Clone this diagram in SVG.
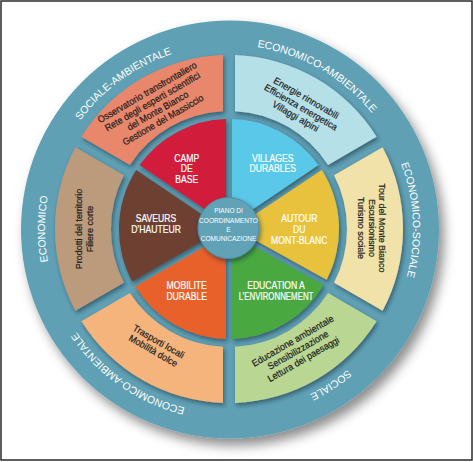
<svg xmlns="http://www.w3.org/2000/svg" xmlns:xlink="http://www.w3.org/1999/xlink" width="473" height="462" viewBox="0 0 473 462">
<style>
.seg-text{font-family:"Liberation Sans",Arial,sans-serif;font-size:9.6px;fill:#1c1c1c;stroke:#1c1c1c;stroke-width:0.2px;text-anchor:middle}
.pie-text{font-family:"Liberation Sans",Arial,sans-serif;font-size:10.5px;fill:#ffffff;stroke:#ffffff;stroke-width:0.2px;text-anchor:middle}
.ring-text{font-family:"Liberation Sans",Arial,sans-serif;font-size:10.5px;fill:#ffffff}
.center-text{font-family:"Liberation Sans",Arial,sans-serif;font-size:8px;fill:#ffffff;text-anchor:middle}
.sh{filter:url(#sh)}
</style>
<defs>
<filter id="bigShadow" x="-20%" y="-20%" width="150%" height="150%">
<feDropShadow dx="5" dy="7" stdDeviation="6" flood-color="#000" flood-opacity="0.45"/>
</filter>
<filter id="sh" x="-20%" y="-20%" width="140%" height="140%">
<feDropShadow dx="1.5" dy="2.5" stdDeviation="2" flood-color="#0b2a36" flood-opacity="0.55"/>
</filter>
<path id="ringPath" d="M 229 413 A 184 184 0 0 1 229 45 A 184 184 0 0 1 229 413"/>
</defs>
<rect x="1" y="1" width="471" height="459" fill="#ffffff" stroke="#2a2a2a" stroke-width="1.5"/>

<g id="ring">
<circle cx="230" cy="229.5" r="209" fill="#60a0b5" filter="url(#bigShadow)"/>
<text class="ring-text"><textPath xlink:href="#ringPath" href="#ringPath" startOffset="9.7%" text-anchor="middle">ECONOMICO-AMBIENTALE</textPath></text>
<text class="ring-text"><textPath xlink:href="#ringPath" href="#ringPath" startOffset="25%" text-anchor="middle">ECONOMICO</textPath></text>
<text class="ring-text"><textPath xlink:href="#ringPath" href="#ringPath" startOffset="40%" text-anchor="middle">SOCIALE-AMBIENTALE</textPath></text>
<text class="ring-text"><textPath xlink:href="#ringPath" href="#ringPath" startOffset="58.3%" text-anchor="middle">ECONOMICO-AMBIENTALE</textPath></text>
<text class="ring-text"><textPath xlink:href="#ringPath" href="#ringPath" startOffset="74.2%" text-anchor="middle">ECONOMICO-SOCIALE</textPath></text>
<text class="ring-text"><textPath xlink:href="#ringPath" href="#ringPath" startOffset="90.8%" text-anchor="middle">SOCIALE</textPath></text>
</g>

<g id="seg-sociale-ambientale">
<path class="sh" fill="#e8876c" d="M 223 55.10 A 174 174 0 0 0 81.40 136.86 L 129.94 164.88 A 118 118 0 0 1 223 111.15 Z"/>
<g transform="translate(155,106) rotate(-30) scale(0.93,1)">
<text class="seg-text" x="0" y="-12.5">Osservatorio transfrontaliero</text>
<text class="seg-text" x="0" y="-1.9">Rete degli esperti scientifici</text>
<text class="seg-text" x="0" y="8.7">del Monte Bianco</text>
<text class="seg-text" x="0" y="19.3">Gestione del Massiccio</text>
</g>
</g>

<g id="seg-economico-ambientale-top">
<path class="sh" fill="#b6e0e8" d="M 376.60 136.86 A 174 174 0 0 0 235 55.10 L 235 111.15 A 118 118 0 0 1 328.06 164.88 Z"/>
<g transform="translate(301,107) rotate(30) scale(0.93,1)">
<text class="seg-text" x="0" y="-7.2">Energie rinnovabili</text>
<text class="seg-text" x="0" y="3.4">Efficienza energetica</text>
<text class="seg-text" x="0" y="14">Villaggi alpini</text>
</g>
</g>

<g id="seg-economico-sociale">
<path class="sh" fill="#f1e2a9" d="M 382.60 310.75 A 174 174 0 0 0 382.60 147.25 L 334.06 175.27 A 118 118 0 0 1 334.06 282.73 Z"/>
<g transform="translate(372,228) rotate(90) scale(0.93,1)">
<text class="seg-text" x="0" y="-7.2">Tour del Monte Bianco</text>
<text class="seg-text" x="0" y="3.4">Escursionismo</text>
<text class="seg-text" x="0" y="14">Turismo sociale</text>
</g>
</g>

<g id="seg-sociale">
<path class="sh" fill="#b9d693" d="M 235 402.90 A 174 174 0 0 0 376.60 321.15 L 328.06 293.12 A 118 118 0 0 1 235 346.85 Z"/>
<g transform="translate(298,350) rotate(-30) scale(0.93,1)">
<text class="seg-text" x="0" y="-7.2">Educazione ambientale</text>
<text class="seg-text" x="0" y="3.4">Sensibilizzazione</text>
<text class="seg-text" x="0" y="14">Lettura dei paesaggi</text>
</g>
</g>

<g id="seg-economico-ambientale-bottom">
<path class="sh" fill="#f4b47c" d="M 81.40 321.15 A 174 174 0 0 0 223 402.90 L 223 346.85 A 118 118 0 0 1 129.94 293.12 Z"/>
<g transform="translate(156,346) rotate(30) scale(0.93,1)">
<text class="seg-text" x="0" y="-1.9">Trasporti locali</text>
<text class="seg-text" x="0" y="8.7">Mobilità dolce</text>
</g>
</g>

<g id="seg-economico">
<path class="sh" fill="#bc9a7b" d="M 75.40 147.25 A 174 174 0 0 0 75.40 310.75 L 123.94 282.73 A 118 118 0 0 1 123.94 175.27 Z"/>
<g transform="translate(84,229) rotate(-90) scale(0.93,1)">
<text class="seg-text" x="0" y="-1.9">Prodotti del territorio</text>
<text class="seg-text" x="0" y="8.7">Filiere corte</text>
</g>
</g>

<g id="wedge-villages">
<path class="sh" fill="#5ac8e8" d="M 318.48 165.03 A 110 110 0 0 0 232 119.04 L 232 209.23 L 243.72 215.46 Z"/>
<g transform="translate(272.7,157.7) scale(0.82,1)">
<text class="pie-text" x="0" y="3.8">VILLAGES</text>
<text class="pie-text" x="0" y="14.6">DURABLES</text>
</g>
</g>

<g id="wedge-camp">
<path class="sh" fill="#d11f3b" d="M 226 119.04 A 110 110 0 0 0 139.52 165.03 L 214.29 215.46 L 226 209.23 Z"/>
<g transform="translate(186.7,157.7) scale(0.82,1)">
<text class="pie-text" x="0" y="3.8">CAMP</text>
<text class="pie-text" x="0" y="14.6">DE</text>
<text class="pie-text" x="0" y="25.4">BASE</text>
</g>
</g>

<g id="wedge-saveurs">
<path class="sh" fill="#6d3f31" d="M 136.16 170.00 A 110 110 0 0 0 132.27 281.38 L 210.38 236.29 L 210.93 220.43 Z"/>
<g transform="translate(156,218.3) scale(0.82,1)">
<text class="pie-text" x="0" y="3.8">SAVEURS</text>
<text class="pie-text" x="0" y="14.6">D’HAUTEUR</text>
</g>
</g>

<g id="wedge-mobilite">
<path class="sh" fill="#e8612a" d="M 135.27 286.58 A 110 110 0 0 0 226 338.96 L 226 248.77 L 213.38 241.49 Z"/>
<g transform="translate(186.7,285) scale(0.82,1)">
<text class="pie-text" x="0" y="3.8">MOBILITE</text>
<text class="pie-text" x="0" y="14.6">DURABLE</text>
</g>
</g>

<g id="wedge-education">
<path class="sh" fill="#4aa83f" d="M 232 338.96 A 110 110 0 0 0 323.72 284.93 L 244.84 241.21 L 232 248.77 Z"/>
<g transform="translate(276,285) scale(0.82,1)">
<text class="pie-text" x="0" y="3.8">EDUCATION A</text>
<text class="pie-text" x="0" y="14.6" transform="scale(0.915,1)">L’ENVIRONNEMENT</text>
</g>
</g>

<g id="wedge-autour">
<path class="sh" fill="#e8c23c" d="M 326.63 279.69 A 110 110 0 0 0 321.84 170.00 L 246.07 220.43 L 247.75 235.96 Z"/>
<g transform="translate(299.3,218.3) scale(0.82,1)">
<text class="pie-text" x="0" y="3.8">AUTOUR</text>
<text class="pie-text" x="0" y="14.6">DU</text>
<text class="pie-text" x="0" y="25.4">MONT-BLANC</text>
</g>
</g>

<g id="center">
<circle class="sh" cx="228.5" cy="228" r="30.5" fill="#62a2b6" stroke="#4f8fa4" stroke-width="1"/>
<g transform="translate(228.5,0) scale(0.82,1)">
<text class="center-text" x="0" y="212.9">PIANO DI</text>
<text class="center-text" x="0" y="223.2">COORDINAMENTO</text>
<text class="center-text" x="0" y="231.9">E</text>
<text class="center-text" x="0" y="240.6">COMUNICAZIONE</text>
</g>
</g>
</svg>
